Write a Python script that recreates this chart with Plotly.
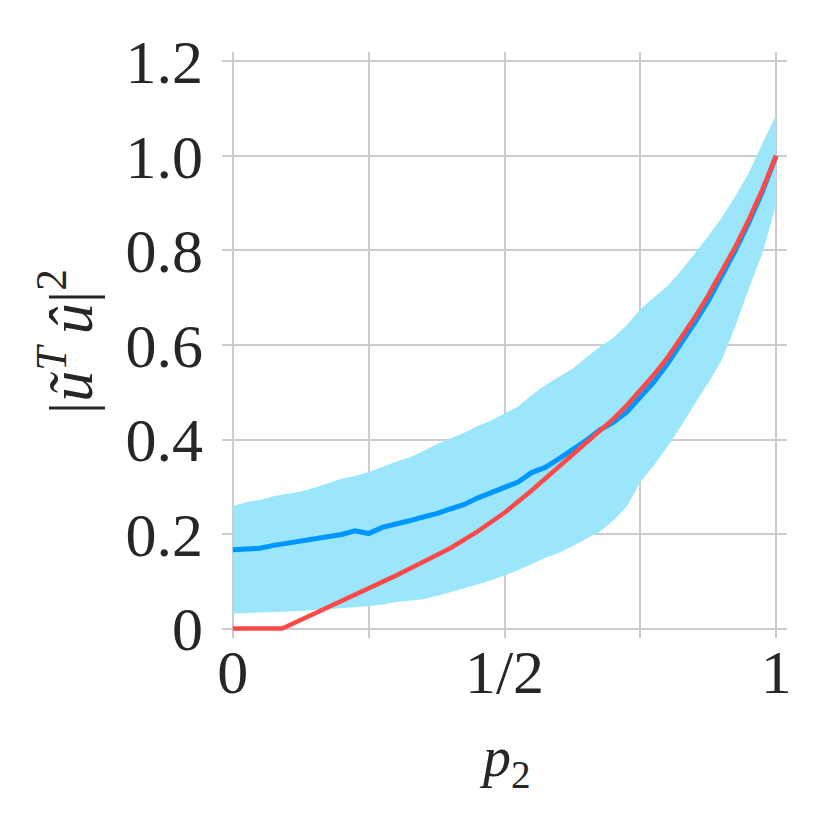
import plotly.graph_objects as go

# Values (p2 on x, overlap on y).
P = [0.0, 0.025, 0.05, 0.075, 0.1, 0.125, 0.15, 0.175, 0.2, 0.225,
     0.25, 0.275, 0.3, 0.325, 0.35, 0.375, 0.4, 0.425, 0.45, 0.475,
     0.5, 0.525, 0.55, 0.575, 0.6, 0.625, 0.65, 0.675, 0.7, 0.725,
     0.75, 0.775, 0.8, 0.825, 0.85, 0.875, 0.9, 0.925, 0.95, 0.975, 1.0]

MEAN = [0.167, 0.169, 0.170, 0.176, 0.181, 0.184, 0.190, 0.195, 0.199, 0.207,
        0.201, 0.214, 0.220, 0.228, 0.236, 0.243, 0.253, 0.262, 0.276, 0.288,
        0.298, 0.310, 0.330, 0.341, 0.359, 0.377, 0.398, 0.420, 0.436, 0.458,
        0.491, 0.522, 0.560, 0.602, 0.647, 0.693, 0.745, 0.800, 0.860, 0.925, 1.0]

UPPER = [0.259, 0.268, 0.272, 0.280, 0.285, 0.290, 0.298, 0.308, 0.317, 0.323,
         0.331, 0.342, 0.353, 0.362, 0.375, 0.390, 0.402, 0.414, 0.428, 0.440,
         0.455, 0.470, 0.494, 0.515, 0.533, 0.550, 0.573, 0.596, 0.615, 0.642,
         0.676, 0.700, 0.725, 0.757, 0.793, 0.830, 0.870, 0.915, 0.965, 1.025, 1.088]

LOWER = [0.032, 0.033, 0.033, 0.035, 0.036, 0.037, 0.039, 0.041, 0.043, 0.045,
         0.047, 0.051, 0.056, 0.059, 0.062, 0.069, 0.077, 0.084, 0.093, 0.102,
         0.112, 0.124, 0.136, 0.150, 0.160, 0.174, 0.190, 0.205, 0.228, 0.258,
         0.310, 0.345, 0.385, 0.428, 0.475, 0.520, 0.568, 0.640, 0.720, 0.795, 0.897]

P_THEORY = [0.0, 0.09, 0.1, 0.15, 0.2, 0.25, 0.3, 0.35, 0.4, 0.45, 0.5,
            0.55, 0.6, 0.625, 0.65, 0.675, 0.7, 0.725, 0.75, 0.775, 0.8,
            0.825, 0.85, 0.875, 0.9, 0.925, 0.95, 0.975, 1.0]
THEORY = [0.0, 0.0, 0.005, 0.032, 0.058, 0.084, 0.112, 0.141, 0.170, 0.205, 0.245,
          0.292, 0.343, 0.367, 0.393, 0.418, 0.443, 0.472, 0.503, 0.537, 0.573,
          0.614, 0.658, 0.705, 0.755, 0.808, 0.866, 0.930, 1.0]

X_TICKS = [0, 0.5, 1]
X_TICK_TEXT = ["0", "1/2", "1"]
Y_TICKS = [0, 0.2, 0.4, 0.6, 0.8, 1.0, 1.2]
Y_TICK_TEXT = ["0", "0.2", "0.4", "0.6", "0.8", "1.0", "1.2"]

INK = "#262626"
GRID = "#cccccc"
BAND = "#9be6fb"
BLUE = "#0096ff"
RED = "#ff4848"
FONT = "Liberation Serif, DejaVu Serif, serif"

fig = go.Figure()
fig.add_trace(go.Scatter(x=P, y=LOWER, mode="lines", line={"width": 0},
                         showlegend=False, hoverinfo="skip"))
fig.add_trace(go.Scatter(x=P, y=UPPER, mode="lines", line={"width": 0},
                         fill="tonexty", fillcolor=BAND, showlegend=False,
                         hoverinfo="skip"))
fig.add_trace(go.Scatter(x=P, y=MEAN, mode="lines",
                         line={"color": BLUE, "width": 5}, showlegend=False))
fig.add_trace(go.Scatter(x=P_THEORY, y=THEORY, mode="lines",
                         line={"color": RED, "width": 4.5}, showlegend=False))

axis_common = {
    "automargin": False,
    "showgrid": True,
    "gridcolor": GRID,
    "gridwidth": 2,
    "zeroline": False,
    "showline": False,
    "ticks": "",
    "tickfont": {"family": FONT, "size": 62, "color": INK},
}

# The page body adds an 8px margin, so the figure is 8px smaller and the
# plot margins are measured from the shifted origin.
fig.update_layout(
    width=820,
    height=826,
    paper_bgcolor="white",
    plot_bgcolor="white",
    margin={"l": 214, "r": 41, "t": 44, "b": 196},
    xaxis={**axis_common, "range": [-0.02, 1.02], "tickvals": X_TICKS,
           "ticktext": X_TICK_TEXT, "ticklabelstandoff": -8,
           "minor": {"tickvals": [0.25, 0.75], "ticks": "", "showgrid": True,
                     "gridcolor": GRID, "gridwidth": 2}},
    yaxis={**axis_common, "range": [-0.02, 1.22], "tickvals": Y_TICKS,
           "ticktext": Y_TICK_TEXT, "ticklabelstandoff": 18},
    annotations=[
        {"text": "<i>p</i><sub>2</sub>", "xref": "paper", "yref": "paper",
         "x": 0.5, "y": -0.21, "xanchor": "center", "yanchor": "middle",
         "showarrow": False,
         "font": {"family": FONT, "size": 56, "color": INK}},
        {"text": "|<i>ũ</i><sup><i>T</i></sup>\u2009<i>û</i>|<sup>2</sup>",
         "xref": "paper", "yref": "paper", "x": -0.276, "y": 0.505,
         "xanchor": "center", "yanchor": "middle",
         "textangle": -90, "showarrow": False,
         "font": {"family": FONT, "size": 62, "color": INK}},
    ],
)

fig.write_html("out.html")
